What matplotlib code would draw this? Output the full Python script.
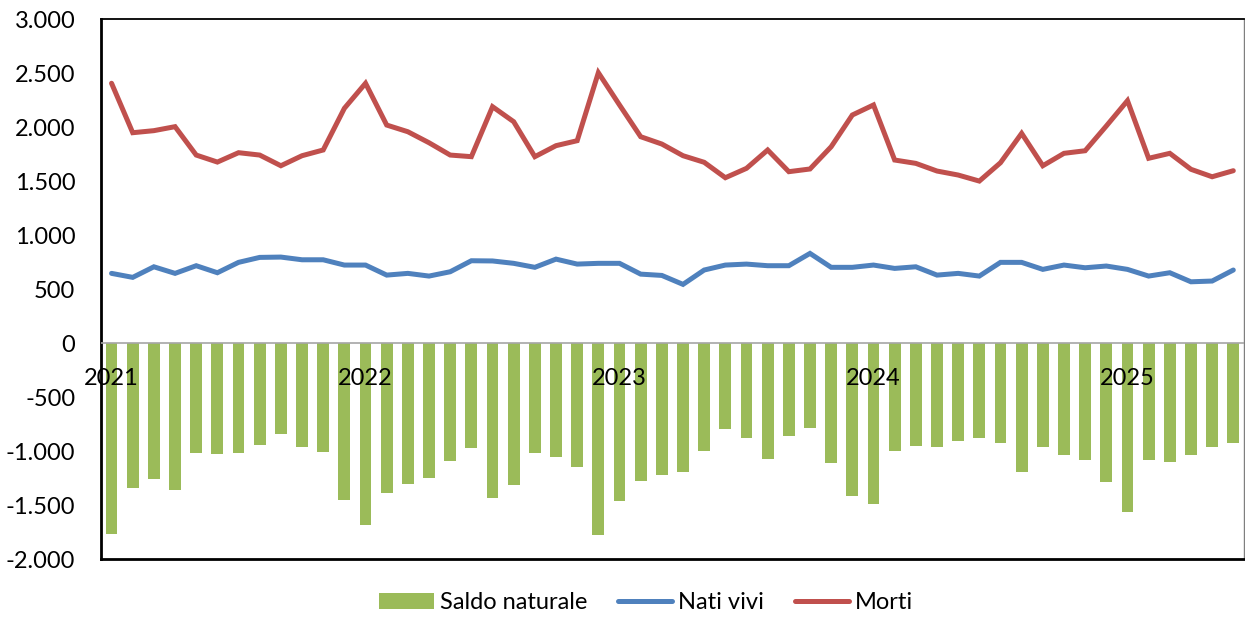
"""Saldo naturale, nati vivi e morti: serie mensile 2021-2025."""

# --------------------------------------------------
# load necessary modules
# --------------------------------------------------
import matplotlib

matplotlib.use("Agg")
import matplotlib.pyplot as plt
from matplotlib.lines import Line2D
from matplotlib.patches import Patch
from matplotlib.ticker import FuncFormatter

# --------------------------------------------------
# data (monthly, Jan 2021 - Jun 2025)
# --------------------------------------------------
years = ["2021", "2022", "2023", "2024", "2025"]
year_start_idx = [0, 12, 24, 36, 48]

morti = [
    2407, 1949, 1968, 2005, 1742, 1677, 1764, 1742, 1643, 1736, 1789, 2175,
    2407, 2020, 1958, 1856, 1742, 1727, 2190, 2051, 1727, 1829, 1875, 2505,
    2206, 1912, 1844, 1736, 1675, 1532, 1619, 1789, 1588, 1613, 1819, 2113,
    2206, 1696, 1665, 1594, 1557, 1501, 1671, 1943, 1643, 1758, 1782, 2011,
    2246, 1712, 1758, 1610, 1541, 1597,
]

nati_vivi = [
    646, 609, 707, 646, 717, 652, 748, 794, 797, 772, 772, 723,
    723, 630, 646, 621, 661, 763, 761, 739, 702, 778, 732, 739,
    739, 639, 627, 544, 677, 723, 732, 717, 717, 831, 702, 702,
    723, 692, 707, 630, 646, 621, 748, 748, 683, 723, 698, 714,
    683, 621, 652, 568, 575, 677,
]

saldo_naturale = [
    -1764, -1341, -1263, -1359, -1022, -1025, -1022, -948, -840, -964, -1013, -1452,
    -1687, -1390, -1304, -1245, -1091, -967, -1437, -1313, -1022, -1054, -1149, -1773,
    -1458, -1276, -1220, -1193, -998, -800, -883, -1075, -865, -785, -1112, -1412,
    -1486, -1004, -955, -961, -908, -883, -924, -1193, -961, -1035, -1087, -1291,
    -1569, -1087, -1103, -1038, -961, -924,
]

# --------------------------------------------------
# style
# --------------------------------------------------
GREEN = "#9BBB59"
BLUE = "#4F81BD"
RED = "#C0504D"
FONT = "Lato"
FS = 17

plt.rcParams["font.family"] = [FONT, "DejaVu Sans"]


def thousands_it(v, _pos):
    # italian thousands separator: 2.500, -1.000
    return f"{int(v):,}".replace(",", ".")


# --------------------------------------------------
# figure
# --------------------------------------------------
fig = plt.figure(figsize=(12.45, 6.19), dpi=100)
ax = fig.add_axes([0.0811, 0.0969, 0.918, 0.872])

x = list(range(len(morti)))

ax.bar(x, saldo_naturale, width=0.56, color=GREEN, zorder=2)
ax.axhline(0, color="#A6A6A6", linewidth=1.2, zorder=3)
ax.plot(x, nati_vivi, color=BLUE, linewidth=3.6, solid_capstyle="round",
        solid_joinstyle="miter", zorder=4)
ax.plot(x, morti, color=RED, linewidth=3.6, solid_capstyle="round",
        solid_joinstyle="miter", zorder=4)

# axis limits and ticks
ax.set_xlim(-0.5, len(morti) - 0.5)
ax.set_ylim(-2000, 3000)
ax.set_yticks(range(-2000, 3001, 500))
ax.yaxis.set_major_formatter(FuncFormatter(thousands_it))
ax.tick_params(axis="y", length=0, pad=18.5, labelsize=FS)
ax.set_xticks([])

# year labels sit just below the zero line
for idx, yr in zip(year_start_idx, years):
    ax.annotate(yr, xy=(idx, 0), xytext=(0, -35), textcoords="offset pixels",
                ha="center", va="center", fontsize=FS, zorder=5)

# frame
ax.spines["left"].set_linewidth(2.0)
ax.spines["bottom"].set_linewidth(2.0)
ax.spines["top"].set_linewidth(1.3)
ax.spines["right"].set_linewidth(1.0)
ax.spines["right"].set_color("#7F7F7F")
for side in ("left", "bottom", "top"):
    ax.spines[side].set_color("black")

# legend
handles = [
    Patch(facecolor=GREEN, edgecolor="none", label="Saldo naturale"),
    Line2D([0], [0], color=BLUE, linewidth=3.6, solid_capstyle="round", label="Nati vivi"),
    Line2D([0], [0], color=RED, linewidth=3.6, solid_capstyle="round", label="Morti"),
]
fig.legend(handles=handles, loc="center", bbox_to_anchor=(0.519, 0.026), ncol=3,
           frameon=False, fontsize=FS, handlelength=2.3, handletextpad=0.25,
           columnspacing=1.3, handleheight=0.7)

fig.savefig("out.png", dpi=100)
plt.close(fig)
